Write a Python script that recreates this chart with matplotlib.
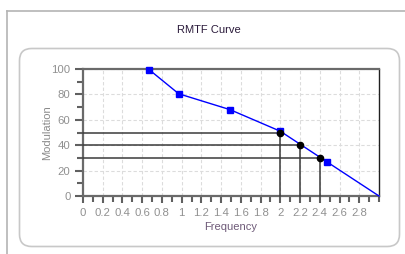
import matplotlib
matplotlib.use("Agg")
import matplotlib.pyplot as plt
from matplotlib.patches import FancyBboxPatch
from matplotlib.lines import Line2D
import numpy as np

# Data
freq = [0.67, 0.97, 1.49, 2.0, 2.47, 3.0]
modulation = [99.5, 80.5, 68, 51, 27, 0]
ref_freq = [2.0, 2.2, 2.4]
ref_mod = [50, 40, 30]
x_major = [0, 0.2, 0.4, 0.6, 0.8, 1.0, 1.2, 1.4, 1.6, 1.8, 2.0, 2.2, 2.4, 2.6, 2.8]
x_labels = ["0", "0.2", "0.4", "0.6", "0.8", "1", "1.2", "1.4", "1.6", "1.8", "2", "2.2", "2.4", "2.6", "2.8"]
y_major = [0, 20, 40, 60, 80, 100]
title = "RMTF Curve"

plt.rcParams['font.family'] = ['Liberation Sans', 'DejaVu Sans']

W, H = 406, 254
fig = plt.figure(figsize=(W / 100, H / 100), dpi=100)
fig.patch.set_facecolor('white')

def fx(px):
    return px / W

def fy(py):
    return 1 - py / H

# Outer frame lines
fig.add_artist(Line2D([fx(6.5), fx(6.5)], [fy(10.5), fy(254)], color='#b4b4b4', lw=1.2,
                      transform=fig.transFigure, zorder=-2))
fig.add_artist(Line2D([fx(6.5), fx(406)], [fy(10.5), fy(10.5)], color='#b4b4b4', lw=1.2,
                      transform=fig.transFigure, zorder=-2))

# Inner rounded box
box = FancyBboxPatch((fx(19.5), fy(246.5)), fx(399.5) - fx(19.5), fy(48.5) - fy(246.5),
                     boxstyle="round,pad=0,rounding_size=0.03",
                     transform=fig.transFigure, facecolor='white', edgecolor='#c8c8c8', lw=1.2,
                     mutation_aspect=W / H, zorder=-1)
fig.add_artist(box)

fig.text(fx(209), fy(30), title, ha='center', va='center', fontsize=8, color='#2a1a3a')

ax = fig.add_axes([fx(83), fy(196), fx(379) - fx(83), fy(69) - fy(196)])
ax.set_zorder(2)
ax.patch.set_alpha(0)
ax.set_xlim(0, 3.0)
ax.set_ylim(0, 100)

ax.set_xticks(x_major)
ax.set_xticklabels(x_labels)
ax.set_xticks(np.arange(0.1, 3.01, 0.2).tolist() + [3.0], minor=True)
ax.set_yticks(y_major)
ax.set_yticks([10, 30, 50, 70, 90], minor=True)

ax.grid(True, which='major', color='#dcdcdc', linestyle=(0, (3, 2)), lw=0.8)
ax.set_axisbelow(True)

ax.tick_params(axis='both', which='both', direction='out', width=1.5,
               color='#606060', labelsize=8.2, labelcolor='#909090')
ax.tick_params(axis='x', which='major', length=5, pad=4)
ax.tick_params(axis='x', which='minor', length=4)
ax.tick_params(axis='y', which='major', length=6, pad=3)
ax.tick_params(axis='y', which='minor', length=4)

for s in ['left', 'bottom', 'top']:
    ax.spines[s].set_color('#6a6a6a')
    ax.spines[s].set_linewidth(1.6)
ax.spines['right'].set_color('#202020')
ax.spines['right'].set_linewidth(1.0)

# Reference lines
for fq, m in zip(ref_freq, ref_mod):
    ax.plot([0, fq], [m, m], color='#3a3a3a', lw=1.1, zorder=3, clip_on=False)
    ax.plot([fq, fq], [0, m], color='#3a3a3a', lw=1.1, zorder=3, clip_on=False)

ax.plot(freq, modulation, color='#0000ff', lw=1.0, marker='s', markersize=5,
        markevery=[0, 1, 2, 3, 4], markerfacecolor='#0000ff', markeredgecolor='#0000ff',
        zorder=4, clip_on=False)
ax.plot(ref_freq, ref_mod, linestyle='none', marker='o', markersize=4.5,
        color='black', zorder=5, clip_on=False)

ax.set_xlabel("Frequency", fontsize=8, color='#6e5a78', labelpad=2.5)
ax.set_ylabel("Modulation", fontsize=8, color='#8a8a8a', labelpad=-0.5)

fig.savefig("out.png", dpi=100)
